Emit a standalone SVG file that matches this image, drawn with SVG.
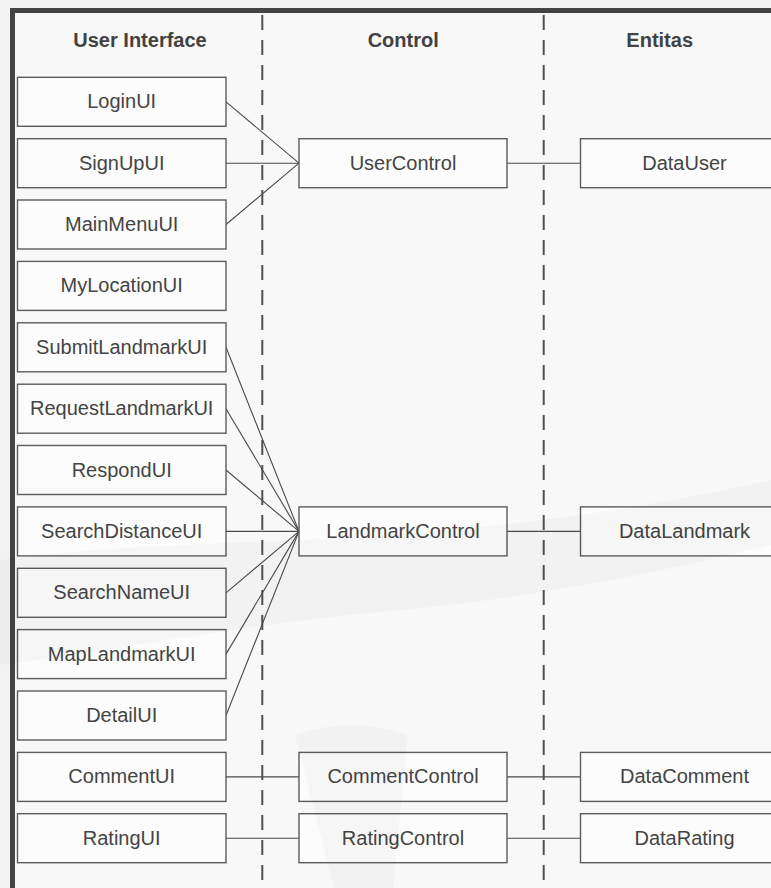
<svg xmlns="http://www.w3.org/2000/svg" width="771" height="888" viewBox="0 0 771 888">
  <defs>
    <style>
      .frame { fill: #f8f8f8; stroke: #444; stroke-width: 5; }
      .lane { stroke: #505050; stroke-width: 2; stroke-dasharray: 15 10; fill: none; }
      .head { font-family: "Liberation Sans", Arial, sans-serif; font-size: 20px; font-weight: bold; fill: #424242; text-anchor: middle; }
      .box { fill: #fcfcfc; stroke: #5c5c5c; stroke-width: 1.4; }
      .lbl { font-family: "Liberation Sans", Arial, sans-serif; font-size: 20px; fill: #444; text-anchor: middle; }
      .link { stroke: #4a4a4a; stroke-width: 1.1; fill: none; }
      .mark { fill: #000; opacity: 0.022; }
    </style>
  </defs>

  <rect x="0" y="0" width="771" height="888" fill="#f3f3f3"/>

  <!-- outer frame -->
  <rect class="frame" x="12.5" y="10.5" width="800" height="900"/>

  <!-- swimlane separators -->
  <g id="lanes">
    <line class="lane" x1="262.3" y1="15" x2="262.3" y2="888"/>
    <line class="lane" x1="543.7" y1="15" x2="543.7" y2="888"/>
  </g>

  <!-- column headings -->
  <g id="headings">
    <text class="head" x="140" y="46.5">User Interface</text>
    <text class="head" x="403.2" y="46.5">Control</text>
    <text class="head" x="659.7" y="46.5">Entitas</text>
  </g>

  <!-- connectors -->
  <g id="connectors">
    <line class="link" x1="226" y1="101.8" x2="299" y2="163.2"/>
    <line class="link" x1="226" y1="163.2" x2="299" y2="163.2"/>
    <line class="link" x1="226" y1="224.5" x2="299" y2="163.2"/>
    <line class="link" x1="507" y1="163.2" x2="580.5" y2="163.2"/>

    <line class="link" x1="226" y1="347.3" x2="299" y2="531.4"/>
    <line class="link" x1="226" y1="408.7" x2="299" y2="531.4"/>
    <line class="link" x1="226" y1="470.0" x2="299" y2="531.4"/>
    <line class="link" x1="226" y1="531.4" x2="299" y2="531.4"/>
    <line class="link" x1="226" y1="592.8" x2="299" y2="531.4"/>
    <line class="link" x1="226" y1="654.1" x2="299" y2="531.4"/>
    <line class="link" x1="226" y1="715.5" x2="299" y2="531.4"/>
    <line class="link" x1="507" y1="531.4" x2="580.5" y2="531.4"/>

    <line class="link" x1="226" y1="776.9" x2="299" y2="776.9"/>
    <line class="link" x1="507" y1="776.9" x2="580.5" y2="776.9"/>
    <line class="link" x1="226" y1="838.2" x2="299" y2="838.2"/>
    <line class="link" x1="507" y1="838.2" x2="580.5" y2="838.2"/>
  </g>

  <!-- user interface classes -->
  <g id="LoginUI"><rect class="box" x="17.5" y="77.3" width="208.5" height="49"/><text class="lbl" x="121.7" y="108.3">LoginUI</text></g>
  <g id="SignUpUI"><rect class="box" x="17.5" y="138.7" width="208.5" height="49"/><text class="lbl" x="121.7" y="169.7">SignUpUI</text></g>
  <g id="MainMenuUI"><rect class="box" x="17.5" y="200" width="208.5" height="49"/><text class="lbl" x="121.7" y="231">MainMenuUI</text></g>
  <g id="MyLocationUI"><rect class="box" x="17.5" y="261.4" width="208.5" height="49"/><text class="lbl" x="121.7" y="292.4">MyLocationUI</text></g>
  <g id="SubmitLandmarkUI"><rect class="box" x="17.5" y="322.8" width="208.5" height="49"/><text class="lbl" x="121.7" y="353.8">SubmitLandmarkUI</text></g>
  <g id="RequestLandmarkUI"><rect class="box" x="17.5" y="384.2" width="208.5" height="49"/><text class="lbl" x="121.7" y="415.2">RequestLandmarkUI</text></g>
  <g id="RespondUI"><rect class="box" x="17.5" y="445.5" width="208.5" height="49"/><text class="lbl" x="121.7" y="476.5">RespondUI</text></g>
  <g id="SearchDistanceUI"><rect class="box" x="17.5" y="506.9" width="208.5" height="49"/><text class="lbl" x="121.7" y="537.9">SearchDistanceUI</text></g>
  <g id="SearchNameUI"><rect class="box" x="17.5" y="568.3" width="208.5" height="49"/><text class="lbl" x="121.7" y="599.3">SearchNameUI</text></g>
  <g id="MapLandmarkUI"><rect class="box" x="17.5" y="629.6" width="208.5" height="49"/><text class="lbl" x="121.7" y="660.6">MapLandmarkUI</text></g>
  <g id="DetailUI"><rect class="box" x="17.5" y="691" width="208.5" height="49"/><text class="lbl" x="121.7" y="722">DetailUI</text></g>
  <g id="CommentUI"><rect class="box" x="17.5" y="752.4" width="208.5" height="49"/><text class="lbl" x="121.7" y="783.4">CommentUI</text></g>
  <g id="RatingUI"><rect class="box" x="17.5" y="813.7" width="208.5" height="49"/><text class="lbl" x="121.7" y="844.7">RatingUI</text></g>

  <!-- control classes -->
  <g id="UserControl"><rect class="box" x="299" y="138.7" width="208" height="49"/><text class="lbl" x="403" y="169.7">UserControl</text></g>
  <g id="LandmarkControl"><rect class="box" x="299" y="506.9" width="208" height="49"/><text class="lbl" x="403" y="537.9">LandmarkControl</text></g>
  <g id="CommentControl"><rect class="box" x="299" y="752.4" width="208" height="49"/><text class="lbl" x="403" y="783.4">CommentControl</text></g>
  <g id="RatingControl"><rect class="box" x="299" y="813.7" width="208" height="49"/><text class="lbl" x="403" y="844.7">RatingControl</text></g>

  <!-- entity classes -->
  <g id="DataUser"><rect class="box" x="580.5" y="138.7" width="208" height="49"/><text class="lbl" x="684.5" y="169.7">DataUser</text></g>
  <g id="DataLandmark"><rect class="box" x="580.5" y="506.9" width="208" height="49"/><text class="lbl" x="684.5" y="537.9">DataLandmark</text></g>
  <g id="DataComment"><rect class="box" x="580.5" y="752.4" width="208" height="49"/><text class="lbl" x="684.5" y="783.4">DataComment</text></g>
  <g id="DataRating"><rect class="box" x="580.5" y="813.7" width="208" height="49"/><text class="lbl" x="684.5" y="844.7">DataRating</text></g>

  <!-- faint background emblem laid over the page -->
  <g id="emblem" pointer-events="none">
    <path class="mark" d="M0,560 C150,540 300,545 450,530 C580,518 680,500 771,480 L771,545 C650,575 520,600 380,612 C240,625 120,650 0,665 Z"/>
    <path class="mark" d="M295,735 Q352,715 408,735 L393,888 L334,888 Z"/>
  </g>
</svg>
